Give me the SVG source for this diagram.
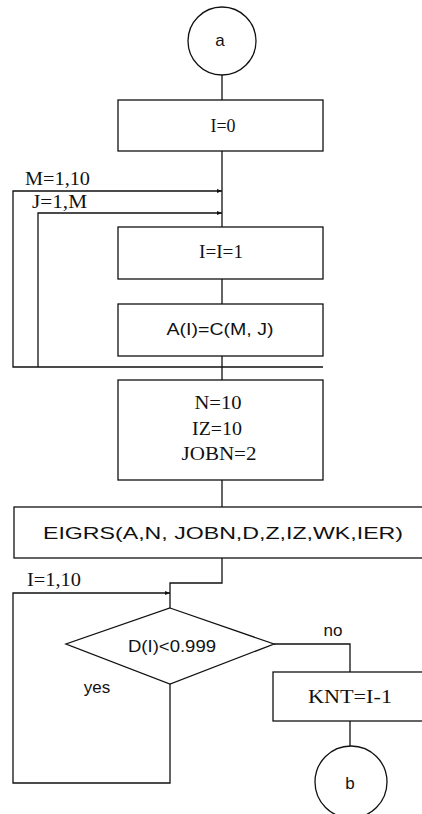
<svg xmlns="http://www.w3.org/2000/svg" width="422" height="814" viewBox="0 0 422 814">
<defs>
<marker id="arr" viewBox="0 0 10 10" refX="10" refY="5" markerWidth="5" markerHeight="5" orient="auto" markerUnits="userSpaceOnUse">
<path d="M0,1 L10,5 L0,9 z" fill="#111"/>
</marker>
<style>
.s{fill:none;stroke:#111;stroke-width:1.3}
.b{fill:#fff;stroke:#111;stroke-width:1.3}
.serif{font-family:"Liberation Serif","Times New Roman",serif;font-size:18px;fill:#111}
.sans{font-family:"Liberation Sans",Arial,sans-serif;font-size:17px;fill:#111}
</style>
</defs>
<rect width="422" height="814" fill="#fff"/>
<g id="connectors">
<line class="s" x1="222" y1="75" x2="222" y2="100"/>
<line class="s" x1="222" y1="151" x2="222" y2="227"/>
<line class="s" x1="222" y1="279" x2="222" y2="304"/>
<line class="s" x1="222" y1="356" x2="222" y2="380"/>
<polyline class="s" points="323,367 13,367 13,191 222,191" marker-end="url(#arr)"/>
<polyline class="s" points="38,367 38,213 222,213" marker-end="url(#arr)"/>
<line class="s" x1="222" y1="480" x2="222" y2="507"/>
<polyline class="s" points="222,558 222,583 170,583 170,608"/>
<polyline class="s" points="170,684 170,783 13,783 13,593 170,593" marker-end="url(#arr)"/>
<polyline class="s" points="274,644 350,644 350,672"/>
<line class="s" x1="350" y1="721" x2="350" y2="746"/>
</g>
<g id="start">
<circle class="b" cx="222" cy="41" r="34"/>
<text class="sans" x="220" y="46" text-anchor="middle">a</text>
</g>
<g id="init">
<rect class="b" x="118" y="100" width="205" height="51"/>
<text class="serif" x="223" y="132" text-anchor="middle" textLength="25" lengthAdjust="spacingAndGlyphs">I=0</text>
</g>
<g id="loopLabels">
<text class="serif" x="25" y="185" textLength="65" lengthAdjust="spacingAndGlyphs">M=1,10</text>
<text class="serif" x="32" y="208" textLength="55" lengthAdjust="spacingAndGlyphs">J=1,M</text>
</g>
<g id="inc">
<rect class="b" x="118" y="227" width="205" height="52"/>
<text class="serif" x="221" y="258" text-anchor="middle" textLength="44" lengthAdjust="spacingAndGlyphs">I=I=1</text>
</g>
<g id="assign">
<rect class="b" x="118" y="304" width="205" height="52"/>
<text class="sans" x="220" y="335" text-anchor="middle" textLength="107" lengthAdjust="spacingAndGlyphs">A(I)=C(M, J)</text>
</g>
<g id="params">
<rect class="b" x="118" y="380" width="205" height="100"/>
<text class="serif" x="218" y="409" text-anchor="middle" textLength="47" lengthAdjust="spacingAndGlyphs">N=10</text>
<text class="serif" x="217" y="435" text-anchor="middle" textLength="50" lengthAdjust="spacingAndGlyphs">IZ=10</text>
<text class="serif" x="219" y="460" text-anchor="middle" textLength="75" lengthAdjust="spacingAndGlyphs">JOBN=2</text>
</g>
<g id="eigrs">
<rect class="b" x="14" y="507" width="420" height="51"/>
<text class="sans" x="43" y="539" textLength="360" lengthAdjust="spacingAndGlyphs">EIGRS(A,N, JOBN,D,Z,IZ,WK,IER)</text>
</g>
<g id="loopI">
<text class="serif" x="27" y="586" textLength="54" lengthAdjust="spacingAndGlyphs">I=1,10</text>
</g>
<g id="decision">
<polygon class="b" points="170,608 274,644 170,684 66,644"/>
<text class="sans" x="172" y="652" text-anchor="middle" textLength="88" lengthAdjust="spacingAndGlyphs">D(I)&lt;0.999</text>
<text class="sans" x="333" y="636" text-anchor="middle">no</text>
<text class="sans" x="97" y="693" text-anchor="middle">yes</text>
</g>
<g id="knt">
<rect class="b" x="273" y="672" width="160" height="49"/>
<text class="serif" x="350" y="703" text-anchor="middle" textLength="84" lengthAdjust="spacingAndGlyphs">KNT=I-1</text>
</g>
<g id="end">
<circle class="b" cx="351" cy="782" r="36"/>
<text class="sans" x="350" y="789" text-anchor="middle">b</text>
</g>
</svg>
